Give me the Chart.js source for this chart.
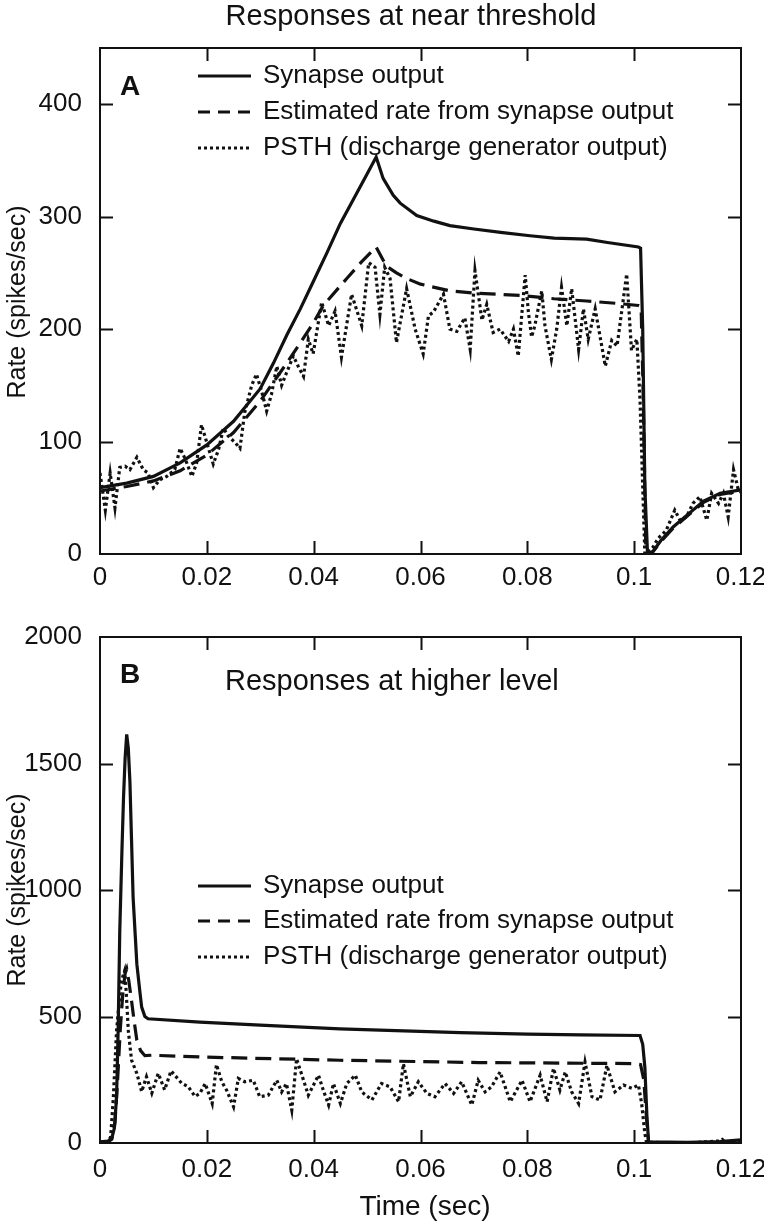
<!DOCTYPE html>
<html>
<head>
<meta charset="utf-8">
<script src="https://cdn.jsdelivr.net/npm/chart.js@4.4.1/dist/chart.umd.min.js"></script>
<style>
  html, body { margin: 0; padding: 0; background: #fff; }
  #wrap { position: relative; width: 764px; height: 1227px; }
  canvas { position: absolute; left: 0; }
</style>
</head>
<body>
<div id="wrap">
  <canvas id="chartA" width="764" height="600" style="top:0"></canvas>
  <canvas id="chartB" width="764" height="627" style="top:600px"></canvas>
</div>
<script>
// Responses of the synapse / discharge generator model

const xTicks = [0, 0.02, 0.04, 0.06, 0.08, 0.1, 0.12];
const xTickLabels = ["0", "0.02", "0.04", "0.06", "0.08", "0.1", "0.12"];
const yTicksA = [0, 100, 200, 300, 400];
const yTicksB = [0, 500, 1000, 1500, 2000];

const seriesNames = [
  "Synapse output",
  "Estimated rate from synapse output",
  "PSTH (discharge generator output)",
];

// Panel A - near threshold
const aSynT = [0, 0.005, 0.01, 0.015, 0.02, 0.025, 0.03, 0.0325, 0.035, 0.0375, 0.04, 0.0425, 0.045, 0.0475, 0.05, 0.0517,
  0.053, 0.0549, 0.0562, 0.0593, 0.0625, 0.0655, 0.07, 0.075, 0.0805, 0.085, 0.0911, 0.095, 0.1008, 0.1012, 0.1016, 0.102,
  0.1025, 0.1035, 0.105, 0.1073, 0.11, 0.113, 0.1161, 0.12];
const aSynV = [59, 63, 69, 81, 97, 118, 147, 170, 195, 218, 243, 268, 294, 316, 338, 353,
  334, 319, 312, 301, 296, 292, 289, 286, 283, 281, 280, 277, 273, 272, 200, 60,
  0, 2, 12, 24, 35, 47, 54, 57];

const aEstT = [0, 0.005, 0.01, 0.015, 0.02, 0.025, 0.03, 0.035, 0.0374, 0.04, 0.0418, 0.0462, 0.049, 0.0517, 0.0536,
  0.0555, 0.0574, 0.06, 0.0655, 0.07, 0.0786, 0.085, 0.0911, 0.0965, 0.1008, 0.1013, 0.1017, 0.1022, 0.1035, 0.105,
  0.1073, 0.11, 0.113, 0.1161, 0.12];
const aEstV = [56, 60, 65, 74, 88, 108, 136, 170, 187, 206, 221, 245, 260, 273, 256,
  250, 245, 240, 234, 232, 230, 227, 225, 223, 221, 220, 140, 0, 2, 11,
  23, 34, 46, 53, 56];

const aPsthT = [0, 0.001, 0.0019, 0.0028, 0.0037, 0.0047, 0.0056, 0.0069, 0.0081, 0.009, 0.01, 0.0112, 0.0125, 0.014,
  0.015, 0.016, 0.0172, 0.0181, 0.019, 0.02, 0.0212, 0.0222, 0.0231, 0.024, 0.0253, 0.0262, 0.0271, 0.0284, 0.0293,
  0.0303, 0.0312, 0.0321, 0.0331, 0.034, 0.0349, 0.0362, 0.0371, 0.0381, 0.039, 0.0399, 0.0415, 0.0428, 0.044, 0.0452,
  0.0471, 0.049, 0.0503, 0.0515, 0.0524, 0.0533, 0.0543, 0.0555, 0.0574, 0.059, 0.0605, 0.0615, 0.0624, 0.0643, 0.0655,
  0.0668, 0.0683, 0.0693, 0.0702, 0.0715, 0.0724, 0.0736, 0.0749, 0.0765, 0.0774, 0.0783, 0.0796, 0.0802, 0.0808,
  0.0814, 0.0827, 0.0833, 0.0845, 0.0855, 0.0864, 0.0874, 0.0883, 0.0896, 0.0905, 0.0914, 0.0927, 0.0946, 0.0958,
  0.0968, 0.0986, 0.0995, 0.1005, 0.1011, 0.1016, 0.102, 0.1035, 0.1045, 0.106, 0.1076, 0.1086, 0.1098, 0.111, 0.1123,
  0.1136, 0.1145, 0.1158, 0.1167, 0.1176, 0.1186, 0.1195, 0.12];
const aPsthV = [72, 39, 72, 41, 77, 78, 75, 86, 75, 72, 59, 66, 69, 75,
  94, 84, 69, 81, 115, 99, 80, 93, 112, 105, 99, 94, 126, 150, 160,
  144, 127, 142, 167, 150, 161, 176, 167, 158, 191, 178, 224, 203, 216, 175,
  231, 203, 259, 255, 213, 255, 245, 188, 236, 200, 178, 212, 215, 231, 200,
  198, 210, 182, 252, 208, 222, 197, 200, 189, 200, 176, 248, 215, 193,
  203, 234, 203, 173, 200, 237, 203, 236, 182, 218, 191, 218, 167, 190,
  185, 249, 181, 191, 137, 60, 0, 6, 14, 21, 39, 30, 33, 45, 51,
  30, 54, 45, 54, 33, 75, 57, 55];

// Panel B - higher level
const bSynT = [0, 0.0015, 0.0022, 0.0027, 0.0031, 0.0034, 0.0037, 0.0041, 0.0044, 0.0047, 0.005, 0.0053, 0.0056,
  0.0059, 0.0062, 0.0066, 0.0069, 0.0074, 0.0078, 0.0084, 0.009, 0.0187, 0.03, 0.0449, 0.0674, 0.08, 0.09, 0.1011,
  0.1016, 0.102, 0.1024, 0.1027, 0.11, 0.116, 0.12];
const bSynV = [5, 8, 18, 60, 180, 450, 838, 1150, 1363, 1520, 1615, 1560, 1429,
  1200, 970, 820, 707, 610, 537, 500, 491, 478, 466, 451, 436, 430, 427, 425,
  390, 300, 100, 5, 3, 6, 12];

const bEstT = [0, 0.0015, 0.0022, 0.0028, 0.0033, 0.0038, 0.0043, 0.0047, 0.005, 0.0054, 0.0059, 0.0064, 0.0069,
  0.0076, 0.0084, 0.0097, 0.0187, 0.0449, 0.071, 0.0998, 0.1012, 0.1018, 0.1023, 0.1027, 0.12];
const bEstV = [2, 5, 15, 80, 250, 450, 600, 670, 688, 640, 563, 480, 406,
  365, 345, 347, 340, 327, 318, 314, 310, 250, 100, 0, 0];

const bPsthT = [0, 0.0015, 0.002, 0.0025, 0.0031, 0.0036, 0.004, 0.0046, 0.0049, 0.0053, 0.0059, 0.0069, 0.0078,
  0.0087, 0.0097, 0.0109, 0.0121, 0.0133, 0.0153, 0.0165, 0.0178, 0.0187, 0.0197, 0.021, 0.0218, 0.0228, 0.0237,
  0.025, 0.0259, 0.0271, 0.0287, 0.0299, 0.0315, 0.0331, 0.034, 0.0349, 0.0359, 0.0368, 0.0378, 0.039, 0.0409, 0.0418,
  0.0428, 0.0437, 0.045, 0.0462, 0.0478, 0.049, 0.0509, 0.0527, 0.0543, 0.0559, 0.0568, 0.0581, 0.0596, 0.0612,
  0.0627, 0.0646, 0.0662, 0.0677, 0.0696, 0.0708, 0.0721, 0.0733, 0.0749, 0.0768, 0.079, 0.0805, 0.0824, 0.0837,
  0.0849, 0.0861, 0.0871, 0.0883, 0.0896, 0.0908, 0.0921, 0.0936, 0.0949, 0.0964, 0.098, 0.0996, 0.1008, 0.1014,
  0.102, 0.1023, 0.11, 0.116, 0.1165, 0.117, 0.12];
const bPsthV = [0, 2, 25, 180, 444, 560, 640, 680, 600, 444, 328, 275, 203,
  262, 197, 275, 210, 285, 236, 223, 184, 196, 235, 156, 310, 242, 209,
  143, 255, 242, 248, 183, 189, 248, 202, 235, 130, 333, 268, 189, 268, 209,
  150, 235, 156, 235, 268, 202, 170, 235, 222, 163, 313, 183, 242, 196,
  183, 235, 196, 242, 150, 248, 202, 222, 281, 163, 248, 163, 268, 163,
  295, 209, 281, 202, 156, 320, 183, 170, 307, 202, 229, 216, 229, 156,
  38, 3, 0, 8, 14, 3, 2];

const ink = "#111111";
const fontFamily = "'Liberation Sans', Arial, Helvetica, sans-serif";
const dashes = [[], [16, 8], [3, 3]];
const legendDashes = [[], [12, 8], [3, 3]];

function toPoints(ts, vs) {
  return ts.map((t, i) => ({ x: t, y: vs[i] }));
}

const framePlugin = {
  id: "frame",
  afterDraw(chart, args, o) {
    const ctx = chart.ctx;
    const a = chart.chartArea;
    const xs = chart.scales.x;
    const ys = chart.scales.y;
    const tick = 13;

    ctx.save();
    ctx.strokeStyle = ink;
    ctx.lineWidth = 2;
    ctx.setLineDash([]);
    ctx.strokeRect(a.left, a.top, a.right - a.left, a.bottom - a.top);

    // inward tick marks on all four sides
    ctx.beginPath();
    xs.ticks.forEach((t) => {
      const px = Math.round(xs.getPixelForValue(t.value)) + 0.5;
      if (px < a.left + 2 || px > a.right - 2) return;
      ctx.moveTo(px, a.bottom);
      ctx.lineTo(px, a.bottom - tick);
      ctx.moveTo(px, a.top);
      ctx.lineTo(px, a.top + tick);
    });
    ys.ticks.forEach((t) => {
      const py = Math.round(ys.getPixelForValue(t.value)) + 0.5;
      if (py < a.top + 2 || py > a.bottom - 2) return;
      ctx.moveTo(a.left, py);
      ctx.lineTo(a.left + tick, py);
      ctx.moveTo(a.right, py);
      ctx.lineTo(a.right - tick, py);
    });
    ctx.stroke();

    ctx.fillStyle = ink;
    ctx.textBaseline = "middle";

    // panel letter
    ctx.font = "bold 28px " + fontFamily;
    ctx.textAlign = "left";
    ctx.fillText(o.letter, 120, o.letterY);

    // panel title
    ctx.font = "29px " + fontFamily;
    ctx.textAlign = o.titleAlign;
    ctx.fillText(o.title, o.titleX, o.titleY);

    // legend
    ctx.font = "26px " + fontFamily;
    ctx.textAlign = "left";
    o.legendY.forEach((y, i) => {
      ctx.lineWidth = 3;
      ctx.setLineDash(legendDashes[i]);
      ctx.beginPath();
      ctx.moveTo(198, y);
      ctx.lineTo(251, y);
      ctx.stroke();
      ctx.setLineDash([]);
      ctx.fillText(seriesNames[i], 263, y);
    });

    // y axis title
    ctx.save();
    ctx.translate(18, o.yTitleY);
    ctx.rotate(-Math.PI / 2);
    ctx.textAlign = "center";
    ctx.font = "25px " + fontFamily;
    ctx.fillText("Rate (spikes/sec)", 0, 0);
    ctx.restore();

    if (o.xTitle) {
      ctx.textAlign = "center";
      ctx.font = "28px " + fontFamily;
      ctx.fillText(o.xTitle, 425, o.xTitleY);
    }
    ctx.restore();
  },
};

function makeChart(id, cfg) {
  const canvas = document.getElementById(id);
  const h = canvas.height;
  const datasets = cfg.series.map((s, i) => ({
    label: seriesNames[i],
    data: toPoints(s[0], s[1]),
    borderColor: ink,
    borderWidth: 3.2,
    borderDash: dashes[i],
    borderCapStyle: "butt",
    pointRadius: 0,
    tension: 0,
    fill: false,
  }));

  return new Chart(canvas, {
    type: "line",
    data: { datasets: datasets },
    options: {
      responsive: false,
      animation: false,
      events: [],
      layout: { padding: { top: cfg.top, right: 23, left: 0, bottom: 0 } },
      plugins: {
        legend: { display: false },
        tooltip: { enabled: false },
        frame: cfg.frame,
      },
      scales: {
        x: {
          type: "linear",
          min: 0,
          max: 0.12,
          grid: { display: false },
          border: { display: false },
          afterBuildTicks: (s) => {
            s.ticks = xTicks.map((v) => ({ value: v }));
          },
          afterFit: (s) => {
            s.height = h - cfg.bottom;
            s.paddingLeft = 0;
            s.paddingRight = 0;
          },
          ticks: {
            padding: cfg.xPad,
            color: ink,
            autoSkip: false,
            maxRotation: 0,
            font: { family: fontFamily, size: 26 },
            callback: (v, i) => xTickLabels[i],
          },
        },
        y: {
          type: "linear",
          min: 0,
          max: cfg.yMax,
          grid: { display: false },
          border: { display: false },
          afterBuildTicks: (s) => {
            s.ticks = cfg.yTicks.map((v) => ({ value: v }));
          },
          afterFit: (s) => {
            s.width = 100;
            s.paddingTop = 0;
            s.paddingBottom = 0;
          },
          ticks: {
            padding: 10,
            color: ink,
            font: { family: fontFamily, size: 26 },
            callback: (v) => String(v),
          },
        },
      },
    },
    plugins: [framePlugin],
  });
}

makeChart("chartA", {
  series: [[aSynT, aSynV], [aEstT, aEstV], [aPsthT, aPsthV]],
  yMax: 450,
  yTicks: yTicksA,
  top: 48,
  bottom: 554,
  xPad: 0,
  frame: {
    letter: "A",
    letterY: 87,
    title: "Responses at near threshold",
    titleAlign: "center",
    titleX: 411,
    titleY: 17,
    legendY: [76, 112, 148],
    yTitleY: 302,
  },
});

makeChart("chartB", {
  series: [[bSynT, bSynV], [bEstT, bEstV], [bPsthT, bPsthV]],
  yMax: 2000,
  yTicks: yTicksB,
  top: 37,
  bottom: 543,
  xPad: 3,
  frame: {
    letter: "B",
    letterY: 75,
    title: "Responses at higher level",
    titleAlign: "left",
    titleX: 225,
    titleY: 82,
    legendY: [286, 321, 357],
    yTitleY: 290,
    xTitle: "Time (sec)",
    xTitleY: 607,
  },
});
</script>
</body>
</html>
